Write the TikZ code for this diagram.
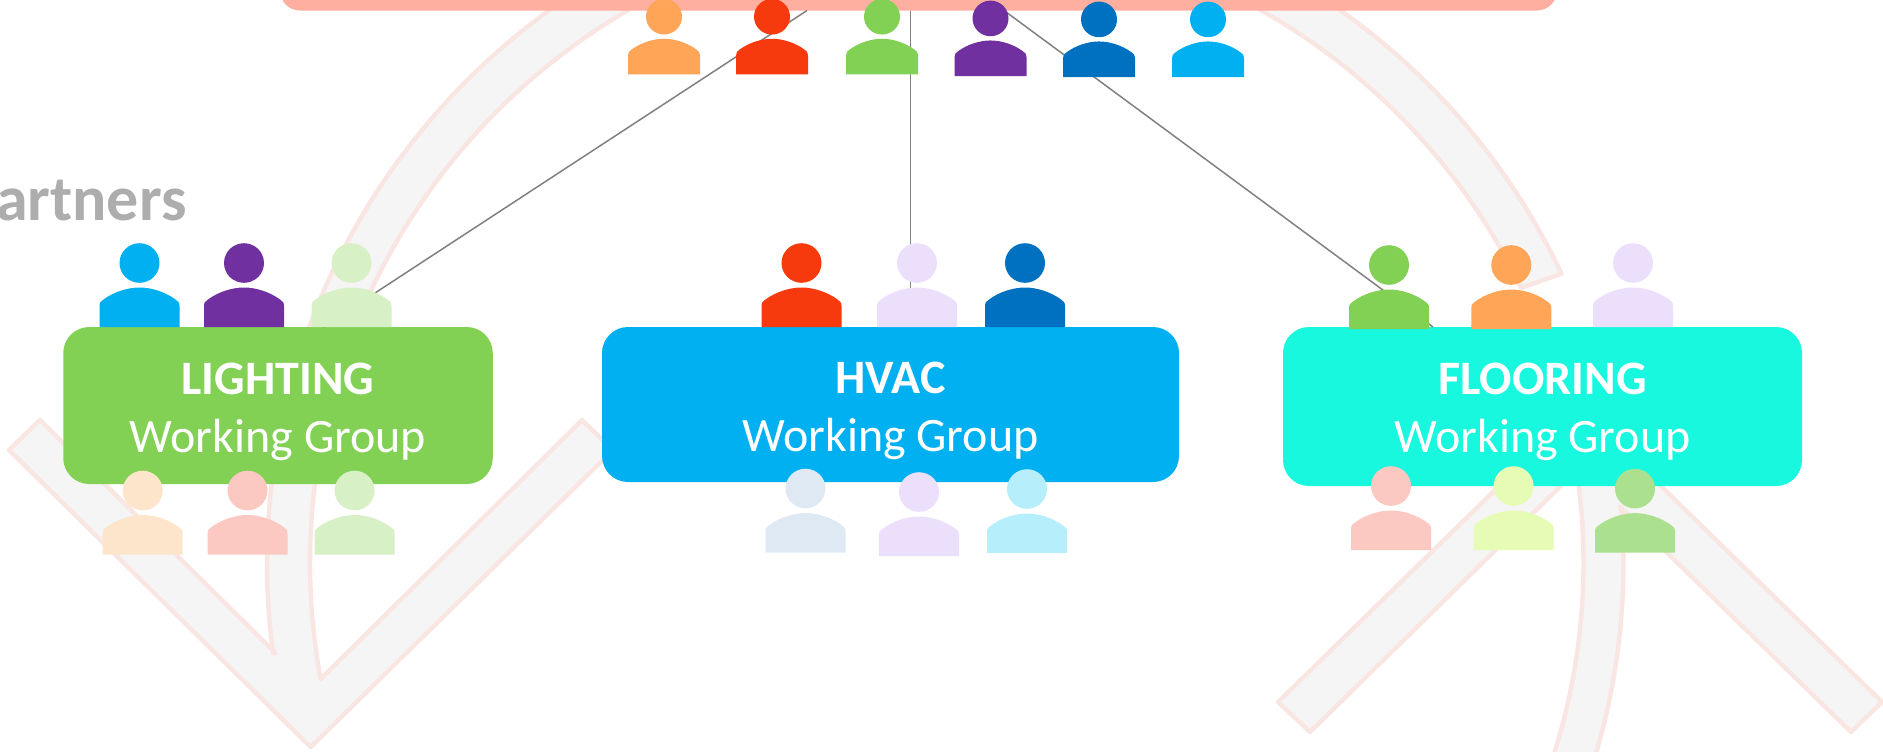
\documentclass[tikz,border=0pt]{standalone}
\usepackage{fontspec}
\setmainfont{Carlito}
\definecolor{barc}{HTML}{FFAFA0}
\definecolor{greenc}{HTML}{82D155}
\definecolor{bluec}{HTML}{00B0F0}
\definecolor{cyanc}{HTML}{17F8DF}
\definecolor{purplec}{HTML}{7030A0}
\definecolor{navyc}{HTML}{0070C0}
\definecolor{redc}{HTML}{F63A0E}
\definecolor{orangec}{HTML}{FFA557}
\definecolor{lilacc}{HTML}{ECDFFB}
\definecolor{peachc}{HTML}{FDE5CC}
\definecolor{pinkc}{HTML}{FCC8C2}
\definecolor{palegreenc}{HTML}{D8F0C6}
\definecolor{paleblue}{HTML}{DEE9F3}
\definecolor{skyc}{HTML}{B7EEFB}
\definecolor{limec}{HTML}{E6FBB3}
\definecolor{midgreenc}{HTML}{ABE08E}
\definecolor{arrowfill}{HTML}{F5F5F5}
\definecolor{arrowedge}{HTML}{F9E6E2}
\tikzset{
  bgarrow/.style={fill=arrowfill,draw=arrowedge,line width=2.2pt,line join=round},
  wgbox/.style={rounded corners=13pt,inner sep=0pt,text=white,align=center,
    font=\fontsize{24}{28.7}\selectfont},
  link/.style={draw=black!50,line width=0.75pt},
  partnerlabel/.style={text=black!32,font=\fontsize{32}{36}\selectfont\bfseries,inner sep=0pt},
}
% centre x, body bottom y, colour, scale
\newcommand{\psn}[4]{%
  \begin{scope}[shift={(#1,#2)},scale=#4]
    \fill[#3] (0,-64) ellipse [x radius=20,y radius=19.8];
    \fill[#3] (-40,0) -- (-40,-21) .. controls (-40,-24.5) and (-38.5,-26) .. (-36,-27.5)
      .. controls (-26,-35) and (-12,-39.5) .. (0,-39.5)
      .. controls (12,-39.5) and (26,-35) .. (36,-27.5)
      .. controls (38.5,-26) and (40,-24.5) .. (40,-21) -- (40,0) -- cycle;
  \end{scope}}
\begin{document}
\begin{tikzpicture}[x=0.5pt,y=-0.5pt]
\useasboundingbox (0,0) rectangle (1883,751);
\clip (0,0) rectangle (1883,751);
% pale background arrows (arcs of one ring centred at 949.5,563)
\draw[bgarrow] (310.7,747) -- (9,450) -- (40,420) -- (275.5,653)
  -- plot[domain=172.4:238.7,samples=60] ({949.5+682.5*cos(\x)},{563+682.5*sin(\x)})
  -- plot[domain=245.7:169.55,samples=60] ({949.5+639.5*cos(\x)},{563+639.5*sin(\x)})
  -- (582,420) -- (613,450) -- cycle;
\draw[bgarrow] plot[domain=-59.5:-25.3,samples=40] ({949.5+677*cos(\x)},{563+677*sin(\x)})
  -- plot[domain=-25.7:-66.8,samples=40] ({949.5+634.5*cos(\x)},{563+634.5*sin(\x)}) -- cycle;
\draw[bgarrow] (1580,407) -- (1882,702) -- (1851,732) -- (1620,507)
  -- plot[domain=-4.8:19.7,samples=40] ({949.5+674*cos(\x)},{563+674*sin(\x)})
  -- plot[domain=21:-8.4,samples=40] ({949.5+634*cos(\x)},{563+634*sin(\x)})
  -- (1310,732) -- (1278,702) -- cycle;
% boxes
\node[partnerlabel,anchor=base east] (partners) at (187,220) {Partners};
\node[fill=barc,rounded corners=10pt,minimum width=638.5pt,minimum height=50pt,inner sep=0pt] (bar) at (918.5,-39.5) {};
\node[wgbox,fill=greenc,minimum width=214.75pt,minimum height=78.5pt] (lighting) at (278,405.5) {\rule{0pt}{22pt}\textbf{LIGHTING}\\Working Group};
\node[wgbox,fill=bluec,minimum width=288.5pt,minimum height=77.5pt] (hvac) at (890.5,404.5) {\rule{0pt}{22pt}\textbf{HVAC}\\Working Group};
\node[wgbox,fill=cyanc,minimum width=259.5pt,minimum height=79.5pt] (flooring) at (1542.5,406.5) {\rule{0pt}{21pt}\textbf{FLOORING}\\Working Group};
% connectors
\coordinate (t1) at (807,10.5);
\coordinate (t2) at (910.7,10.5);
\coordinate (t3) at (1004,10.5);
\coordinate (e1) at (323,327);
\coordinate (e2) at (910.7,327);
\coordinate (e3) at (1433,327);
\draw[link] (t1) -- (e1);
\draw[link] (t2) -- (e2);
\draw[link] (t3) -- (e3);
% people
\psn{664}{74.3}{orangec}{.9}
\psn{772}{74.3}{redc}{.9}
\psn{882}{74.3}{greenc}{.9}
\psn{990.5}{76}{purplec}{.9}
\psn{1099}{77}{navyc}{.9}
\psn{1208}{77}{bluec}{.9}
\psn{139.5}{327}{bluec}{1}
\psn{244}{327}{purplec}{1}
\psn{351.5}{327}{palegreenc}{1}
\psn{142.7}{554.5}{peachc}{1}
\psn{247.5}{554.5}{pinkc}{1}
\psn{354.6}{554.5}{palegreenc}{1}
\psn{801.5}{327}{redc}{1}
\psn{917}{327}{lilacc}{1}
\psn{1025}{327}{navyc}{1}
\psn{805.5}{552.5}{paleblue}{1}
\psn{919}{556}{lilacc}{1}
\psn{1027}{553}{skyc}{1}
\psn{1389}{329}{greenc}{1}
\psn{1511.3}{329}{orangec}{1}
\psn{1633}{327}{lilacc}{1}
\psn{1391}{550}{pinkc}{1}
\psn{1513.6}{550}{limec}{1}
\psn{1635}{552.6}{midgreenc}{1}
\end{tikzpicture}
\end{document}
